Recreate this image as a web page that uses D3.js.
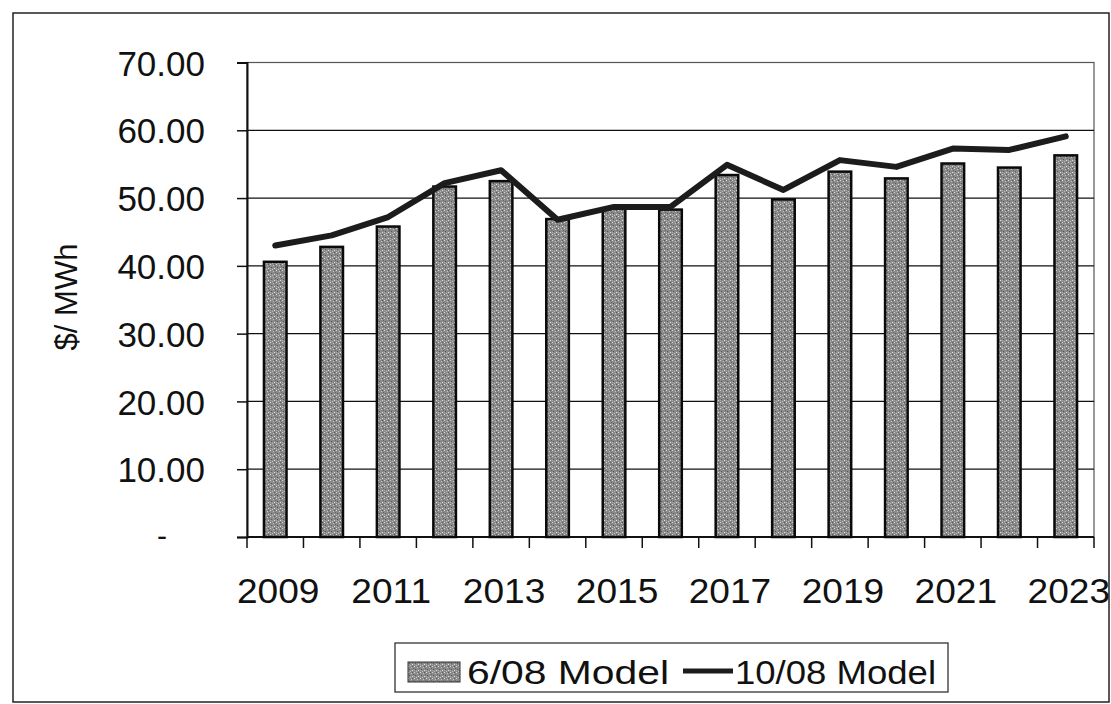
<!DOCTYPE html>
<html>
<head>
<meta charset="utf-8">
<script src="https://cdn.jsdelivr.net/npm/d3@7/dist/d3.min.js"></script>
<style>
  html, body { margin: 0; padding: 0; background: #fff; }
  svg { display: block; }
  text { font-family: "Liberation Sans", Arial, sans-serif; fill: #111; }
</style>
</head>
<body>
<svg id="chart" width="1111" height="704"></svg>
<script>
// Annual price forecast, $/MWh
const years = [2009, 2010, 2011, 2012, 2013, 2014, 2015, 2016, 2017, 2018, 2019, 2020, 2021, 2022, 2023];
const model0608 = [40.6, 42.8, 45.8, 51.7, 52.5, 46.9, 48.5, 48.3, 53.4, 49.8, 53.9, 52.9, 55.1, 54.5, 56.3];
const model1008 = [43.0, 44.5, 47.2, 52.2, 54.1, 46.8, 48.7, 48.7, 54.9, 51.2, 55.6, 54.6, 57.3, 57.1, 59.1];
const yTicks = [0, 10, 20, 30, 40, 50, 60, 70];
const xLabelYears = [2009, 2011, 2013, 2015, 2017, 2019, 2021, 2023];
const seriesNames = ["6/08 Model", "10/08 Model"];
const yTitle = "$/ MWh";

const svg = d3.select("#chart");

// Plot area bounds
const plotL = 247, plotR = 1094, plotT = 62.5, plotB = 537;

const x = d3.scaleBand().domain(years).range([plotL, plotR]).paddingInner(0.6).paddingOuter(0.3);
const y = d3.scaleLinear().domain([0, 70]).range([plotB, plotT]);

// Dithered grey fill for the bars
const defs = svg.append("defs");
const pat = defs.append("pattern").attr("id", "grain").attr("patternUnits", "userSpaceOnUse")
  .attr("width", 6).attr("height", 6);
pat.append("rect").attr("width", 6).attr("height", 6).attr("fill", "#8a8a8a");
[[0,0,"#d8d8d8"],[3,1,"#c4c4c4"],[1,3,"#555"],[4,4,"#e0e0e0"],[2,5,"#bdbdbd"],[5,2,"#666"],[0,4,"#a8a8a8"],[4,0,"#5a5a5a"]]
  .forEach(([px, py, c]) => pat.append("rect").attr("x", px).attr("y", py).attr("width", 1).attr("height", 1).attr("fill", c));

// Outer chart frame
svg.append("rect").attr("x", 13).attr("y", 13).attr("width", 1096).attr("height", 689)
  .attr("fill", "none").attr("stroke", "#222").attr("stroke-width", 1.5);

// Plot area border (top / right)
svg.append("rect").attr("x", plotL).attr("y", plotT).attr("width", plotR - plotL).attr("height", plotB - plotT)
  .attr("fill", "none").attr("stroke", "#555").attr("stroke-width", 1.2);

// Horizontal gridlines
svg.append("g").selectAll("line").data(yTicks.filter(d => d > 0 && d < 70)).join("line")
  .attr("x1", plotL).attr("x2", plotR).attr("y1", d => y(d)).attr("y2", d => y(d))
  .attr("stroke", "#111").attr("stroke-width", 1.3);

// Y axis
const yAxis = d3.axisLeft(y).tickValues(yTicks).tickSize(10).tickPadding(32)
  .tickFormat(d => d === 0 ? "" : d3.format(".2f")(d));
const gy = svg.append("g").attr("transform", `translate(${plotL},0)`).call(yAxis);
gy.select(".domain").attr("stroke", "#111").attr("stroke-width", 2);
gy.selectAll(".tick line").attr("stroke", "#111").attr("stroke-width", 1.5);
gy.selectAll(".tick text").attr("font-size", 35).attr("fill", "#111").attr("dy", "0.36em")
  .attr("font-family", "Liberation Sans, Arial, sans-serif");
// zero is shown as a dash
svg.append("text").attr("x", 162).attr("y", y(0)).attr("dy", "0.3em").attr("text-anchor", "middle")
  .attr("font-size", 30).text("-");

// X axis line with category boundary ticks
svg.append("line").attr("x1", plotL).attr("x2", plotR).attr("y1", plotB).attr("y2", plotB)
  .attr("stroke", "#111").attr("stroke-width", 2);
const gap = x.step() - x.bandwidth();
const boundaries = years.map(d => x(d) - gap / 2).concat([x(years[years.length - 1]) + x.bandwidth() + gap / 2]);
svg.append("g").selectAll("line").data(boundaries).join("line")
  .attr("x1", d => d).attr("x2", d => d).attr("y1", plotB).attr("y2", plotB + 11)
  .attr("stroke", "#111").attr("stroke-width", 1.5);

// Year labels (every other year)
svg.append("g").selectAll("text").data(xLabelYears).join("text")
  .attr("transform", d => `translate(${x(d) + x.bandwidth() / 2 + 3},603) scale(1.06,1)`)
  .attr("text-anchor", "middle").attr("font-size", 35)
  .text(d => d);

// Y axis title
svg.append("text").attr("transform", "translate(77,297) rotate(-90)")
  .attr("text-anchor", "middle").attr("font-size", 31).text(yTitle);

// Bars: 6/08 Model
svg.append("g").selectAll("rect").data(years).join("rect")
  .attr("x", d => x(d)).attr("width", x.bandwidth())
  .attr("y", (d, i) => y(model0608[i])).attr("height", (d, i) => y(0) - y(model0608[i]))
  .attr("fill", "url(#grain)").attr("stroke", "#0a0a0a").attr("stroke-width", 2.5);

// Line: 10/08 Model
const line = d3.line().x((d, i) => x(years[i]) + x.bandwidth() / 2).y(d => y(d));
svg.append("path").datum(model1008).attr("d", line)
  .attr("fill", "none").attr("stroke", "#1c1c1c").attr("stroke-width", 6)
  .attr("stroke-linejoin", "round").attr("stroke-linecap", "round");

// Legend
const lg = svg.append("g");
lg.append("rect").attr("x", 395).attr("y", 643).attr("width", 553).attr("height", 49)
  .attr("fill", "#fff").attr("stroke", "#333").attr("stroke-width", 1.3);
lg.append("rect").attr("x", 408).attr("y", 662).attr("width", 52).attr("height", 20)
  .attr("fill", "url(#grain)").attr("stroke", "#333").attr("stroke-width", 1);
lg.append("text").attr("x", 467).attr("y", 684).attr("font-size", 34)
  .attr("textLength", 202).attr("lengthAdjust", "spacingAndGlyphs").text(seriesNames[0]);
lg.append("line").attr("x1", 683).attr("x2", 733).attr("y1", 671).attr("y2", 671)
  .attr("stroke", "#1c1c1c").attr("stroke-width", 5);
lg.append("text").attr("x", 735).attr("y", 684).attr("font-size", 34)
  .attr("textLength", 201).attr("lengthAdjust", "spacingAndGlyphs").text(seriesNames[1]);
</script>
</body>
</html>
